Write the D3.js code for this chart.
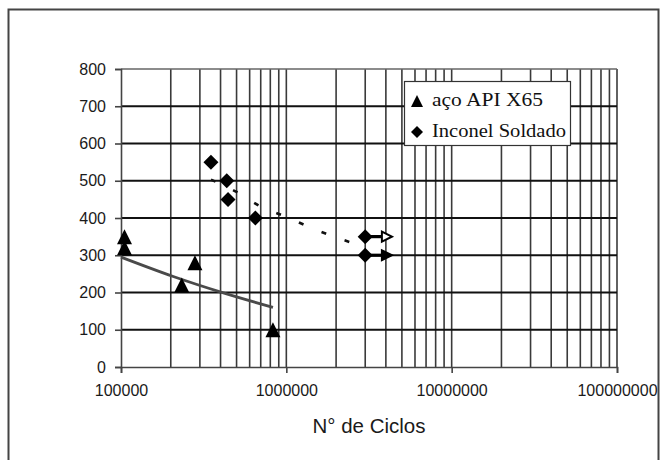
<!DOCTYPE html>
<html>
<head>
<meta charset="utf-8">
<script src="https://cdn.jsdelivr.net/npm/d3@7"></script>
<style>
  body { margin: 0; background: #fff; }
  svg { display: block; }
</style>
</head>
<body>
<div id="chart"></div>
<script>
// ==============================
// S-N chart data
// ==============================
var acoCycles = [105000, 105000, 233000, 280000, 830000];
var acoStress = [350, 320, 220, 280, 100];

var inconelCycles = [350000, 436000, 444000, 650000, 3000000, 3000000];
var inconelStress = [550, 500, 450, 400, 350, 300];

// run-out points (arrows)
var runoutCycles = [3000000, 3000000];
var runoutStress = [350, 300];
var runoutEnd = [4350000, 4350000];

// trendlines
var acoTrendCycles = [100000, 207000, 416000, 830000];
var acoTrendStress = [295, 243, 199, 160];

var inconelTrendCycles = [350000, 500000, 700000, 1000000, 1500000, 2000000, 3000000];
var inconelTrendStress = [503, 470, 431, 403, 369, 348, 322];

var yTicks = [0, 100, 200, 300, 400, 500, 600, 700, 800];
var xTicks = [100000, 1000000, 10000000, 100000000];
var xTickLabels = ["100000", "1000000", "10000000", "100000000"];

var legendLabels = ["aço API X65", "Inconel Soldado"];
var xTitle = "N° de Ciclos";

var svgWidth = 660;
var svgHeight = 460;

var margin = {
  top: 69,
  right: 43,
  bottom: 93,
  left: 121
};

var width = svgWidth - margin.left - margin.right;
var height = svgHeight - margin.top - margin.bottom;

var svg = d3.select("#chart")
  .append("svg")
  .attr("width", svgWidth)
  .attr("height", svgHeight);

// outer frame
svg.append("rect")
  .attr("x", 8.5)
  .attr("y", 9.5)
  .attr("width", 650)
  .attr("height", 470)
  .attr("fill", "#fff")
  .attr("stroke", "#444")
  .attr("stroke-width", 2);

var chartGroup = svg.append("g")
  .attr("transform", `translate(${margin.left}, ${margin.top})`);

var xScale = d3.scaleLog()
  .domain([100000, 100000000])
  .range([0, width]);

var yScale = d3.scaleLinear()
  .domain([0, 800])
  .range([height, 0]);

// minor vertical gridlines (2..9 of each decade) and decade lines
var vGrid = [];
[100000, 1000000, 10000000].forEach(function(dec) {
  for (var k = 2; k <= 10; k++) vGrid.push(dec * k);
});

chartGroup.selectAll(".vgrid")
  .data(vGrid)
  .enter()
  .append("line")
  .attr("class", "vgrid")
  .attr("x1", d => xScale(d))
  .attr("x2", d => xScale(d))
  .attr("y1", 0)
  .attr("y2", height)
  .attr("stroke", "#3a3a3a")
  .attr("stroke-width", 1.6);

// horizontal gridlines
chartGroup.selectAll(".hgrid")
  .data(yTicks.filter(d => d > 0))
  .enter()
  .append("line")
  .attr("class", "hgrid")
  .attr("x1", 0)
  .attr("x2", width)
  .attr("y1", d => yScale(d))
  .attr("y2", d => yScale(d))
  .attr("stroke", d => d === 800 ? "#666" : "#111")
  .attr("stroke-width", d => d === 800 ? 1.5 : 2.2);

// axes
var leftAxis = d3.axisLeft(yScale)
  .tickValues(yTicks)
  .tickSize(6)
  .tickPadding(9);

var bottomAxis = d3.axisBottom(xScale)
  .tickValues(xTicks)
  .tickFormat((d, i) => xTickLabels[i])
  .tickSize(6)
  .tickPadding(12);

var yAxis = chartGroup.append("g")
  .call(leftAxis);

var xAxis = chartGroup.append("g")
  .attr("transform", `translate(0, ${height})`)
  .call(bottomAxis);

[yAxis, xAxis].forEach(function(ax) {
  ax.select(".domain").attr("stroke", "#444").attr("stroke-width", 1.6);
  ax.selectAll(".tick line").attr("stroke", "#444").attr("stroke-width", 1.6);
  ax.selectAll("text")
    .attr("font-family", "Liberation Sans, Arial, sans-serif")
    .attr("font-size", "16px")
    .attr("fill", "#1a1a1a");
});

// x axis title
chartGroup.append("text")
  .attr("x", width / 2)
  .attr("y", height + 66)
  .attr("text-anchor", "middle")
  .attr("font-family", "Liberation Sans, Arial, sans-serif")
  .attr("font-size", "20.5px")
  .attr("fill", "#1a1a1a")
  .text(xTitle);

// trendline for aço API X65
var acoTrend = acoTrendCycles.map((d, i) => [d, acoTrendStress[i]]);
var line = d3.line()
  .x(d => xScale(d[0]))
  .y(d => yScale(d[1]))
  .curve(d3.curveMonotoneX);

chartGroup.append("path")
  .datum(acoTrend)
  .attr("d", line)
  .attr("fill", "none")
  .attr("stroke", "#4a4a4a")
  .attr("stroke-width", 2.8);

// trendline for Inconel (dashed)
var inconelTrend = inconelTrendCycles.map((d, i) => [d, inconelTrendStress[i]]);
chartGroup.append("path")
  .datum(inconelTrend)
  .attr("d", line)
  .attr("fill", "none")
  .attr("stroke", "#111")
  .attr("stroke-width", 2.6)
  .attr("stroke-dasharray", "5,19.5");

// marker shapes
function triPath(cx, cy, s) {
  return `M${cx},${cy - s / 2}L${cx + s / 2},${cy + s / 2}L${cx - s / 2},${cy + s / 2}Z`;
}
function diaPath(cx, cy, s) {
  return `M${cx},${cy - s / 2}L${cx + s / 2},${cy}L${cx},${cy + s / 2}L${cx - s / 2},${cy}Z`;
}

// run-out arrows
runoutCycles.forEach(function(c, i) {
  var x0 = xScale(c);
  var x1 = xScale(runoutEnd[i]);
  var y = yScale(runoutStress[i]);
  chartGroup.append("line")
    .attr("x1", x0)
    .attr("x2", x1 - 8)
    .attr("y1", y)
    .attr("y2", y)
    .attr("stroke", "#000")
    .attr("stroke-width", 3.2);
  chartGroup.append("path")
    .attr("d", `M${x1},${y}L${x1 - 10},${y - 5}L${x1 - 10},${y + 5}Z`)
    .attr("fill", i === 0 ? "#fff" : "#000")
    .attr("stroke", "#000")
    .attr("stroke-width", 2);
});

// inconel diamonds
chartGroup.selectAll(".dia")
  .data(inconelCycles)
  .enter()
  .append("path")
  .attr("class", "dia")
  .attr("d", (d, i) => diaPath(xScale(d), yScale(inconelStress[i]), 15))
  .attr("fill", "#000");

// aço triangles
chartGroup.selectAll(".tri")
  .data(acoCycles)
  .enter()
  .append("path")
  .attr("class", "tri")
  .attr("d", (d, i) => triPath(xScale(d), yScale(acoStress[i]), 15))
  .attr("fill", "#000");

// legend
var legend = svg.append("g")
  .attr("transform", "translate(404, 81)");

legend.append("rect")
  .attr("x", 0.5)
  .attr("y", 0.5)
  .attr("width", 166)
  .attr("height", 64)
  .attr("fill", "#fff")
  .attr("stroke", "#333")
  .attr("stroke-width", 1.2);

legend.append("path")
  .attr("d", triPath(13, 20, 12))
  .attr("fill", "#000");
legend.append("path")
  .attr("d", diaPath(13, 51, 12))
  .attr("fill", "#000");

var legendWidths = [111, 134];
legend.selectAll(".ltext")
  .data(legendLabels)
  .enter()
  .append("text")
  .attr("class", "ltext")
  .attr("x", 28)
  .attr("y", (d, i) => 25 + i * 31)
  .attr("font-family", "Liberation Serif, Times New Roman, serif")
  .attr("font-size", "18px")
  .attr("textLength", (d, i) => legendWidths[i])
  .attr("lengthAdjust", "spacingAndGlyphs")
  .attr("fill", "#111")
  .text(d => d);
</script>
</body>
</html>
